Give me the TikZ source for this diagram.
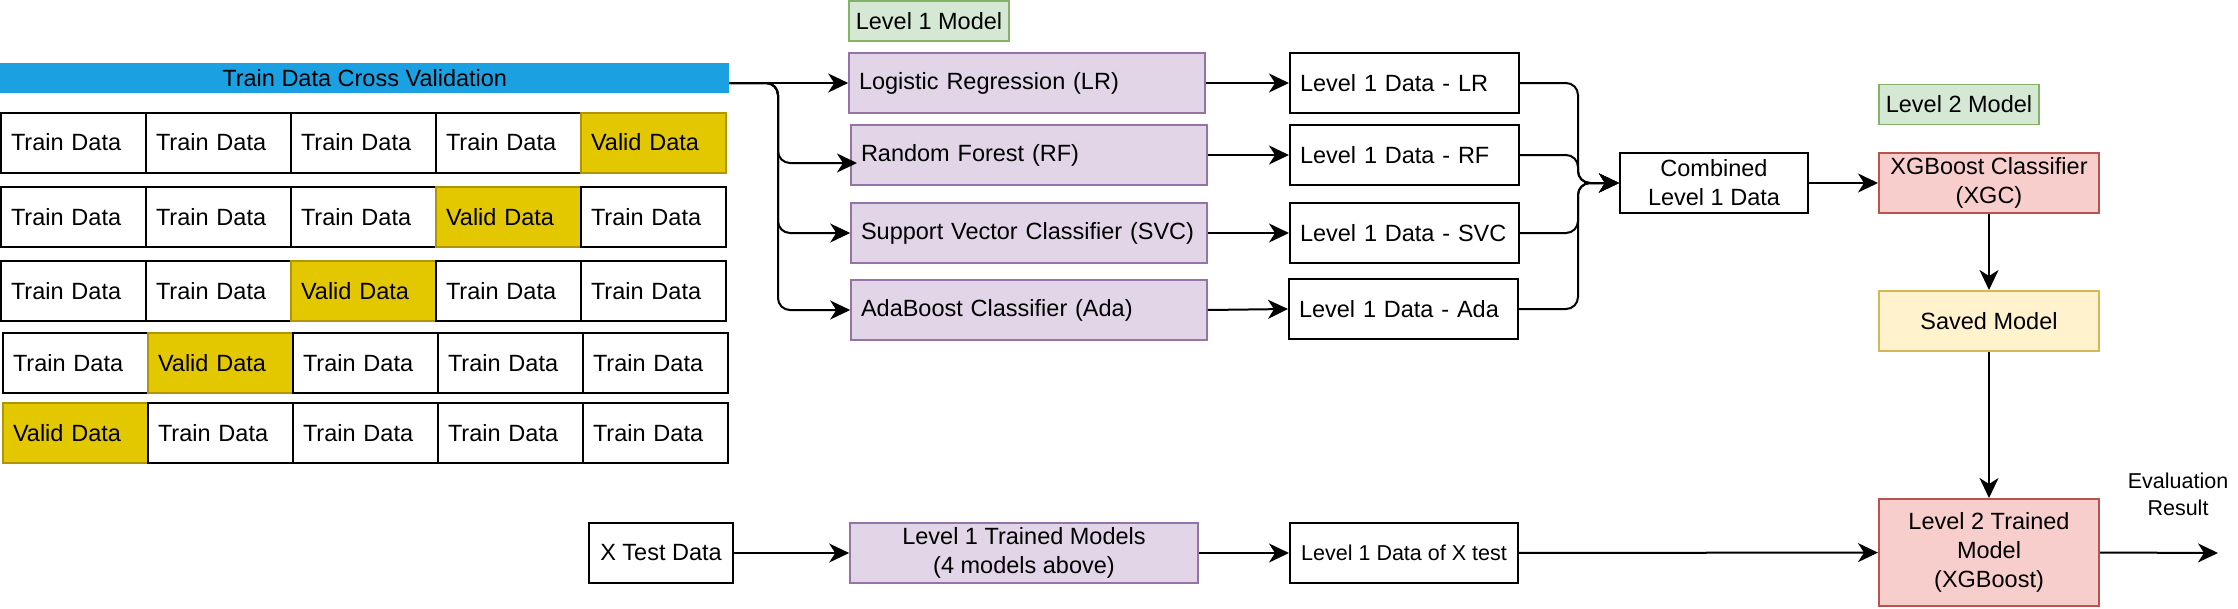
\documentclass[tikz,border=0pt]{standalone}
\usepackage{fontspec}
\setmainfont{Liberation Sans}
\usetikzlibrary{arrows.meta}
\definecolor{barblue}{HTML}{1BA1E2}
\definecolor{validfill}{HTML}{E3C800}
\definecolor{validline}{HTML}{B09500}
\definecolor{greenfill}{HTML}{D5E8D4}
\definecolor{greenline}{HTML}{82B366}
\definecolor{purplefill}{HTML}{E1D5E7}
\definecolor{purpleline}{HTML}{9673A6}
\definecolor{redfill}{HTML}{F8CECC}
\definecolor{redline}{HTML}{B85450}
\definecolor{yellowfill}{HTML}{FFF2CC}
\definecolor{yellowline}{HTML}{D6B656}
\begin{document}
\begin{tikzpicture}[x=1pt,y=-1pt,
  txt/.style={font=\fontsize{23.5}{29}\selectfont},
  smalltxt/.style={font=\fontsize{21.5}{27}\selectfont},
  base/.style={txt, draw, line width=2pt, minimum height=60pt, inner sep=0pt, align=center},
  cell/.style={base, text width=125pt, inner xsep=10pt, align=left, anchor=west},
  trainc/.style={fill=white},
  validc/.style={fill=validfill, draw=validline},
  model/.style={base, draw=purpleline, fill=purplefill, line width=1.6pt, text width=336pt, inner xsep=10pt, align=left},
  plain/.style={base, fill=white},
  datab/.style={base, fill=white, text width=209pt, inner xsep=10pt, align=left},
  label/.style={txt, draw=greenline, fill=greenfill, line width=1.6pt, minimum width=160pt, minimum height=40pt, inner sep=0pt},
  arr/.style={line width=2pt, -{Stealth[length=20pt,width=19pt,inset=6pt]}},
]
\useasboundingbox (0,0) rectangle (2238,608);

% cross validation bar
\node[txt, fill=barblue, minimum width=729pt, minimum height=30pt, inner sep=0pt, anchor=north west] (bar) at (0,63) {Train Data Cross Validation};

% folds
\foreach \r/\y/\dx/\v in {1/142.5/0/5,2/217/0/4,3/291/0/3,4/363/2/2,5/433/2/1}{
  \foreach \c in {1,...,5}{
    \pgfmathsetmacro\xx{(\c-1)*145+\dx}
    \ifnum\c=\v\relax
      \node[cell, validc] (c\r\c) at (\xx,\y) {Valid Data};
    \else
      \node[cell, trainc] (c\r\c) at (\xx,\y) {Train Data};
    \fi
  }
}

% level 1 models
\node[label] (l1lab) at (929,21) {Level 1 Model};
\node[model] (lr)  at (1027,83)  {Logistic Regression (LR)};
\node[model] (rf)  at (1029,155) {Random Forest (RF)};
\node[model] (svc) at (1029,233) {Support Vector Classifier (SVC)};
\node[model] (ada) at (1029,310) {AdaBoost Classifier (Ada)};

% level 1 data
\node[datab] (dlr)  at (1404.5,83)  {Level 1 Data - LR};
\node[datab] (drf)  at (1404.5,155) {Level 1 Data - RF};
\node[datab] (dsvc) at (1404.5,233) {Level 1 Data - SVC};
\node[datab] (dada) at (1403.5,309) {Level 1 Data - Ada};

% combined and level 2
\node[plain, minimum width=188pt] (comb) at (1714,183) {Combined\\Level 1 Data};
\node[label] (l2lab) at (1959,104.5) {Level 2 Model};
\node[base, draw=redline, fill=redfill, minimum width=220pt] (xgb) at (1989,183) {XGBoost Classifier\\(XGC)};
\node[base, draw=yellowline, fill=yellowfill, minimum width=220pt] (saved) at (1989,321) {Saved Model};
\node[base, draw=redline, fill=redfill, minimum width=220pt, minimum height=107pt] (l2t) at (1989,552.5) {Level 2 Trained\\Model\\(XGBoost)};

% test path
\node[plain, minimum width=144pt] (xtest) at (661,553) {X Test Data};
\node[base, draw=purpleline, fill=purplefill, line width=1.6pt, minimum width=348pt] (l1t) at (1024,553) {Level 1 Trained Models\\(4 models above)};
\node[plain, smalltxt, minimum width=228pt] (l1x) at (1404,553) {Level 1 Data of X test};
\node[smalltxt, align=center, inner sep=0pt] (eval) at (2178,494) {Evaluation\\Result};

% helper coordinates
\coordinate (split) at (778,83);
\coordinate (rfin) at (857,163);
\coordinate (merge) at (1578,183);
\coordinate (evalend) at (2218,553);

% connectors from bar
\draw[arr] (bar.east |- lr.west) -- (lr.west);
\draw[arr, rounded corners=12pt] (bar.east |- lr.west) -- (split) |- (rfin);
\draw[arr, rounded corners=12pt] (bar.east |- lr.west) -- (split) |- (svc.west);
\draw[arr, rounded corners=12pt] (bar.east |- lr.west) -- (split) |- (ada.west);

% models to data
\draw[arr] (lr) -- (dlr);
\draw[arr] (rf) -- (drf);
\draw[arr] (svc) -- (dsvc);
\draw[arr] (ada.east) -- (dada.west);

% data to combined
\draw[arr, rounded corners=12pt] (dlr.east) -| (merge) -- (comb.west);
\draw[arr, rounded corners=12pt] (drf.east) -| (merge) -- (comb.west);
\draw[arr, rounded corners=12pt] (dsvc.east) -| (merge) -- (comb.west);
\draw[arr, rounded corners=12pt] (dada.east) -| (merge) -- (comb.west);

\draw[arr] (comb) -- (xgb);
\draw[arr] (xgb) -- (saved);
\draw[arr] (saved) -- (l2t);

\draw[arr] (xtest) -- (l1t);
\draw[arr] (l1t) -- (l1x);
\draw[arr] (l1x) -- (l2t);
\draw[arr] (l2t.east) -- (evalend);
\end{tikzpicture}
\end{document}
